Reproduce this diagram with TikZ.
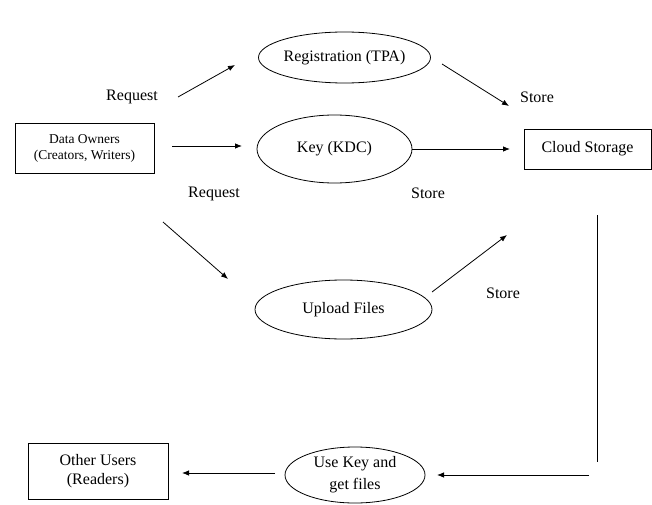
\documentclass[tikz,border=0pt]{standalone}
\usepackage{fontspec}
\setmainfont{Liberation Serif}
\usetikzlibrary{shapes.geometric,arrows.meta}
\begin{document}
\begin{tikzpicture}[x=1pt,y=-1pt,
  box/.style={draw,line width=0.9pt,inner sep=0pt,align=center,font=\fontsize{16}{19}\selectfont},
  ell/.style={draw,ellipse,line width=0.8pt,inner sep=0pt,align=center,font=\fontsize{16}{22}\selectfont},
  lbl/.style={font=\fontsize{16}{19}\selectfont,inner sep=0pt},
  arr/.style={line width=0.8pt,-{Latex[length=7pt,width=5.5pt]}},
  ln/.style={line width=0.8pt}]
\useasboundingbox (0,0) rectangle (652,505);
% nodes
\node[box,minimum width=139pt,minimum height=50pt,font=\fontsize{13.5}{16}\selectfont] (do) at (84.5,148) {Data Owners\\(Creators, Writers)};
\node[ell,minimum width=145pt,minimum height=51pt] (reg) at (344.5,57.5) {Registration (TPA)};
\node[ell,minimum width=155pt,minimum height=68pt] (key) at (334.5,149) {Key (KDC)};
\node[ell,minimum width=177pt,minimum height=59pt] (up) at (343.5,309.5) {Upload Files};
\node[ell,minimum width=140pt,minimum height=56pt] (use) at (355,475) {Use Key and\\get files};
\node[box,minimum width=127pt,minimum height=40pt] (cloud) at (587.5,149) {Cloud Storage};
\node[box,minimum width=140pt,minimum height=56pt] (ou) at (98,471) {Other Users\\(Readers)};
% labels
\node[lbl] (l1) at (132,97) {Request};
\node[lbl] (l2) at (537,97) {Store};
\node[lbl] (l3) at (214,194) {Request};
\node[lbl] (l4) at (428,193) {Store};
\node[lbl] (l5) at (503,293) {Store};
% coordinates
\coordinate (a1s) at (178,97);  \coordinate (a1e) at (235,65);
\coordinate (a2s) at (172,146); \coordinate (a2e) at (242,146);
\coordinate (a3s) at (163,222); \coordinate (a3e) at (228,279);
\coordinate (a4s) at (442,64);  \coordinate (a4e) at (509,106);
\coordinate (a5e) at (510,149);
\coordinate (a6s) at (432,292); \coordinate (a6e) at (507,235);
\coordinate (v1) at (597,215);  \coordinate (v2) at (597,462);
\coordinate (a8s) at (589,475); \coordinate (a8e) at (437,475);
\coordinate (a9s) at (275,473); \coordinate (a9e) at (182,473);
% connectors
\draw[arr] (a1s) -- (a1e);
\draw[arr] (a2s) -- (a2e);
\draw[arr] (a3s) -- (a3e);
\draw[arr] (a4s) -- (a4e);
\draw[arr] (key.east) -- (a5e);
\draw[arr] (a6s) -- (a6e);
\draw[ln] (v1) -- (v2);
\draw[arr] (a8s) -- (a8e);
\draw[arr] (a9s) -- (a9e);
\end{tikzpicture}
\end{document}
